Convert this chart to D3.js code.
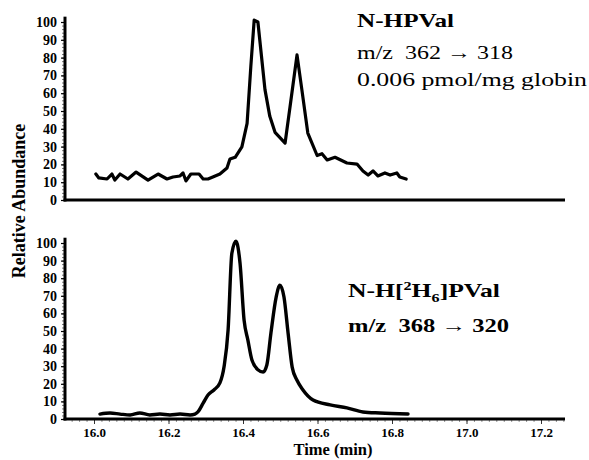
<!DOCTYPE html>
<html>
<head>
<meta charset="utf-8">
<script src="https://cdn.jsdelivr.net/npm/d3@7"></script>
<style>
  body { margin: 0; background: #fff; }
  text { font-family: "Liberation Serif", "Times New Roman", serif; }
</style>
</head>
<body>
<div id="chart"></div>
<script>
// N-HPVal trace (m/z 362 -> 318)
const topTime = [16.005, 16.013, 16.035, 16.048, 16.056, 16.070, 16.091, 16.113, 16.145, 16.172,
    16.196, 16.212, 16.231, 16.239, 16.247, 16.260, 16.282, 16.293, 16.306, 16.319,
    16.338, 16.357, 16.365, 16.379, 16.397, 16.411, 16.421, 16.430, 16.440, 16.459,
    16.472, 16.486, 16.513, 16.526, 16.545, 16.558, 16.574, 16.599, 16.612, 16.626,
    16.647, 16.679, 16.706, 16.722, 16.736, 16.749, 16.762, 16.781, 16.795, 16.813,
    16.821, 16.838];
const topAbund = [14.6, 12.4, 11.8, 14.6, 11.2, 14.6, 11.8, 15.7, 11.2, 14.6,
    11.8, 12.9, 13.5, 15.2, 10.7, 14.6, 14.6, 11.8, 11.8, 12.9,
    14.6, 18, 23, 24, 29.8, 43, 75, 101, 100, 62,
    47, 38, 32, 52, 81.5, 62, 37.6, 25, 26, 22.5,
    24, 20.8, 20.2, 16.3, 14, 16.3, 13.5, 15.2, 14, 15.2,
    12.9, 11.8];

// N-H[2H6]PVal trace (m/z 368 -> 320)
const botTime = [16.016, 16.043, 16.070, 16.097, 16.123, 16.150, 16.177, 16.204, 16.231, 16.258,
    16.271, 16.279, 16.293, 16.306, 16.322, 16.338, 16.349, 16.360, 16.370, 16.381,
    16.392, 16.403, 16.413, 16.424, 16.440, 16.454, 16.464, 16.475, 16.489, 16.499,
    16.510, 16.521, 16.532, 16.545, 16.561, 16.588, 16.634, 16.679, 16.722, 16.768,
    16.843];
const botAbund = [2.8, 3.4, 2.8, 2.3, 3.4, 2.3, 2.8, 2.3, 2.8, 2.3,
    2.8, 4, 9, 13.6, 16.5, 20.5, 29.5, 50.6, 94, 101,
    88.6, 56, 45, 33.5, 28, 26.7, 30.7, 48.9, 69.3, 76,
    69.3, 48.9, 29.5, 22, 16.5, 10.8, 8, 6.3, 4, 3.4,
    2.8];

const yTicks = [0, 10, 20, 30, 40, 50, 60, 70, 80, 90, 100];
const xTicks = [16.0, 16.2, 16.4, 16.6, 16.8, 17.0, 17.2];

const width = 589, height = 460;
const serif = "'Liberation Serif', 'Times New Roman', serif";

const svg = d3.select("#chart").append("svg")
    .attr("width", width)
    .attr("height", height);

// Shared time scale
const x = d3.scaleLinear().domain([16.0, 17.2]).range([94, 541]);
const xStart = x.invert(65), xEnd = x.invert(565);

const panels = [
    { time: topTime, abund: topAbund, y: d3.scaleLinear().domain([0, 100]).range([200, 22]),
      curve: d3.curveLinear, labels: false, stroke: 3.2 },
    { time: botTime, abund: botAbund, y: d3.scaleLinear().domain([0, 100]).range([419, 243]),
      curve: d3.curveMonotoneX, labels: true, stroke: 3.4 }
];

panels.forEach(function (p) {
    const g = svg.append("g");

    // Y axis ticks (major every 10, minor every 2)
    const minor = d3.range(0, 101, 2);
    g.append("g")
        .attr("transform", "translate(" + x(xStart) + ",0)")
        .call(d3.axisLeft(p.y).tickValues(minor).tickSize(3).tickFormat(""))
        .call(function (a) { a.select(".domain").remove(); })
        .selectAll("line").attr("stroke", "#555").attr("stroke-width", 0.8);

    g.append("g")
        .attr("transform", "translate(" + x(xStart) + ",0)")
        .call(d3.axisLeft(p.y).tickValues(yTicks).tickSize(4).tickPadding(4))
        .attr("font-family", serif)
        .attr("font-size", 14)
        .attr("font-weight", "bold")
        .call(function (a) {
            a.select(".domain").remove();
            a.selectAll("line").attr("stroke", "#000").attr("stroke-width", 1.2);
            a.selectAll("text").style("font-family", serif).attr("fill", "#000");
        });

    // X axis ticks
    if (p.labels) {
        g.append("g")
            .attr("transform", "translate(0," + p.y(0) + ")")
            .call(d3.axisBottom(x).tickValues(d3.range(15.94, 17.27, 0.02)).tickSize(3).tickFormat(""))
            .call(function (a) { a.select(".domain").remove(); })
            .selectAll("line").attr("stroke", "#777").attr("stroke-width", 0.8);

        g.append("g")
            .attr("transform", "translate(0," + p.y(0) + ")")
            .call(d3.axisBottom(x).tickValues(xTicks).tickSize(5).tickPadding(4).tickFormat(d3.format(".1f")))
            .attr("font-family", serif)
            .attr("font-size", 13)
            .attr("font-weight", "bold")
            .call(function (a) {
                a.select(".domain").remove();
                a.selectAll("line").attr("stroke", "#333").attr("stroke-width", 1);
                a.selectAll("text").style("font-family", serif).attr("fill", "#000");
            });
    }

    // Axis lines
    g.append("line")
        .attr("x1", x(xStart)).attr("x2", x(xStart))
        .attr("y1", p.y(0) + 1.5).attr("y2", p.y(103))
        .attr("stroke", "#000").attr("stroke-width", 3);
    g.append("line")
        .attr("x1", x(xStart) - 1.5).attr("x2", x(xEnd))
        .attr("y1", p.y(0)).attr("y2", p.y(0))
        .attr("stroke", "#000").attr("stroke-width", 3);

    // Trace
    const line = d3.line()
        .x(function (d) { return x(d[0]); })
        .y(function (d) { return p.y(d[1]); })
        .curve(p.curve);
    g.append("path")
        .datum(d3.zip(p.time, p.abund))
        .attr("fill", "none")
        .attr("stroke", "#000")
        .attr("stroke-width", p.stroke)
        .attr("stroke-linejoin", "round")
        .attr("stroke-linecap", "round")
        .attr("d", line);
});

// Annotation text, top panel
function label(txt, px, py, w, bold) {
    return svg.append("text")
        .attr("x", px).attr("y", py)
        .attr("textLength", w).attr("lengthAdjust", "spacingAndGlyphs")
        .style("white-space", "pre")
        .style("font-size", "19px")
        .style("font-weight", bold ? "bold" : "normal")
        .text(txt);
}
label("N-HPVal", 357, 27, 97, true);
label("m/z  362 \u2192 318", 357, 59, 156, false);
label("0.006 pmol/mg globin", 357, 86, 230, false);

// Annotation text, bottom panel
const lab = svg.append("text")
    .attr("x", 348).attr("y", 297)
    .attr("textLength", 152).attr("lengthAdjust", "spacingAndGlyphs")
    .style("font-size", "19px")
    .style("font-weight", "bold");
lab.append("tspan").text("N-H[");
lab.append("tspan").attr("dy", -7).style("font-size", "12px").text("2");
lab.append("tspan").attr("dy", 7).text("H");
lab.append("tspan").attr("dy", 5).style("font-size", "12px").text("6");
lab.append("tspan").attr("dy", -5).text("]PVal");
label("m/z  368 \u2192 320", 348, 332, 161, true);

// Axis titles
svg.append("text")
    .attr("transform", "translate(25,201) rotate(-90)")
    .attr("text-anchor", "middle")
    .style("font-size", "18px")
    .style("font-weight", "bold")
    .text("Relative Abundance");

svg.append("text")
    .attr("x", 333).attr("y", 455)
    .attr("text-anchor", "middle")
    .style("font-size", "16.5px")
    .style("font-weight", "bold")
    .text("Time (min)");
</script>
</body>
</html>
